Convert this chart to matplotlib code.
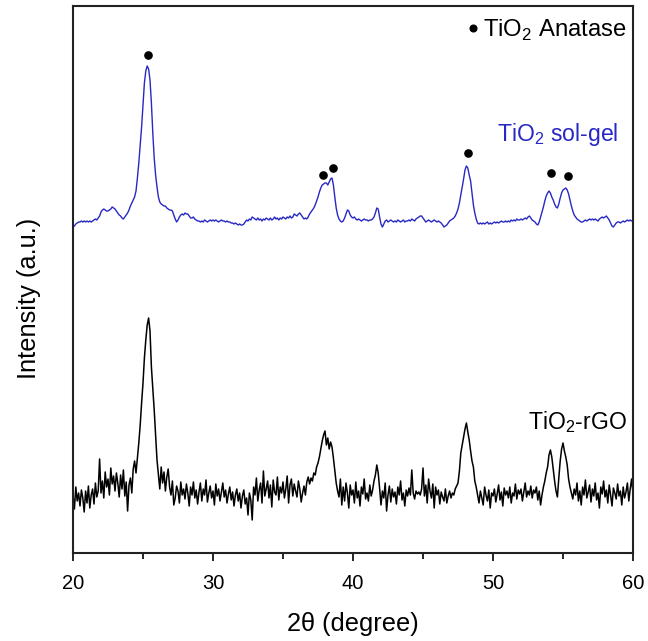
import numpy as np
import matplotlib.pyplot as plt

plt.rcParams['font.family'] = ['Liberation Sans', 'DejaVu Sans']
plt.rcParams['mathtext.fontset'] = 'custom'
plt.rcParams['mathtext.rm'] = 'Liberation Sans'

# 2theta grid, 0.1 degree step from 20 to 60
two_theta = np.round(np.arange(20.0, 60.01, 0.1), 1)

# TiO2 sol-gel (offset trace, arbitrary units)
solgel = [
    326, 327, 329, 330, 331, 331, 332, 331, 332, 331,
    332, 331, 332, 331, 332, 333, 334, 333, 335, 337,
    341, 343, 344, 343, 342, 342, 343, 344, 346, 345,
    344, 342, 340, 338, 337, 335, 334, 336, 338, 340,
    343, 347, 350, 353, 356, 362, 375, 390, 408, 426,
    448, 470, 482, 487, 484, 473, 450, 420, 395, 378,
    366, 356, 351, 349, 348, 347, 347, 345, 344, 343,
    343, 342, 338, 334, 331, 333, 336, 338, 339, 338,
    340, 339, 339, 337, 335, 335, 336, 334, 333, 332,
    332, 331, 332, 331, 333, 332, 331, 332, 333, 332,
    333, 332, 333, 332, 331, 332, 333, 332, 332, 331,
    332, 331, 331, 330, 330, 329, 330, 329, 328, 329,
    328, 328, 329, 331, 333, 332, 334, 333, 336, 335,
    334, 333, 335, 333, 334, 332, 334, 333, 335, 334,
    333, 335, 333, 334, 336, 334, 335, 333, 335, 334,
    336, 335, 334, 336, 335, 337, 335, 336, 339, 338,
    337, 339, 340, 338, 336, 334, 335, 334, 336, 339,
    341, 343, 345, 348, 352, 356, 361, 365, 368, 369,
    370, 370, 368, 371, 374, 375, 368, 356, 345, 338,
    334, 332, 331, 332, 335, 339, 343, 342, 338, 336,
    335, 336, 334, 333, 334, 333, 332, 333, 334, 333,
    333, 332, 333, 333, 334, 336, 340, 345, 344, 336,
    329, 326, 329, 332, 333, 331, 332, 333, 332, 331,
    332, 331, 333, 332, 331, 332, 333, 331, 332, 332,
    333, 332, 334, 333, 332, 334, 335, 336, 337, 337,
    335, 333, 331, 332, 333, 332, 331, 332, 333, 332,
    331, 332, 331, 330, 328, 326, 327, 328, 330, 332,
    333, 334, 335, 337, 340, 344, 350, 358, 366, 374,
    383, 387, 385, 378, 372, 360, 348, 340, 334, 330,
    329, 330, 329, 330, 329, 330, 331, 329, 330, 329,
    330, 331, 330, 331, 330, 331, 332, 331, 331, 332,
    331, 332, 331, 333, 332, 333, 332, 334, 333, 333,
    334, 333, 334, 335, 334, 336, 337, 335, 333, 332,
    331, 329, 328, 331, 336, 341, 346, 352, 357, 360,
    362, 360, 356, 353, 349, 346, 345, 349, 355, 360,
    363, 364, 365, 363, 359, 353, 347, 342, 338, 336,
    334, 333, 332, 331, 331, 332, 333, 332, 333, 334,
    333, 334, 333, 334, 333, 332, 334, 335, 336, 335,
    336, 337, 335, 333, 330, 327, 326, 328, 330, 331,
    331, 330, 331, 332, 331, 332, 333, 332, 333, 332,
    333,
]

# TiO2-rGO (lower trace, arbitrary units)
rgo = [
    58, 44, 66, 52, 60, 47, 63, 55, 41, 62,
    50, 67, 45, 58, 64, 49, 70, 56, 62, 94,
    60, 72, 55, 81, 66, 74, 58, 85, 69, 77,
    62, 80, 70, 56, 78, 64, 83, 57, 71, 42,
    68, 75, 60, 84, 92, 80, 95, 110, 128, 150,
    170, 195, 213, 228, 235, 222, 186, 165, 143, 118,
    93, 78, 64, 86, 70, 81, 62, 76, 84, 66,
    58, 72, 48, 55, 67, 62, 50, 71, 58, 64,
    54, 69, 60, 47, 66, 58, 71, 55, 63, 49,
    61, 70, 52, 64, 58, 73, 51, 60, 67, 55,
    62, 48, 69, 57, 64, 52, 61, 70, 56, 63,
    50, 59, 66, 53, 61, 47, 58, 64, 52, 60,
    45, 57, 63, 49, 55, 38, 60, 53, 33, 66,
    58, 75, 52, 63, 70, 50, 82, 57, 64, 72,
    55, 68, 46, 73, 61, 58, 76, 53, 66, 60,
    71, 55, 64, 77, 50, 68, 74, 57, 69, 62,
    56, 72, 64, 51, 60, 67, 58, 71, 76, 69,
    75, 72, 80, 78, 86, 90, 96, 104, 112, 118,
    122, 108, 115, 104, 111, 106, 95, 82, 70, 62,
    56, 74, 48, 66, 52, 70, 60, 45, 68, 58,
    63, 50, 71, 55, 62, 47, 66, 59, 74, 54,
    60, 52, 68, 57, 63, 72, 78, 88, 80, 65,
    48, 62, 55, 70, 42, 58, 67, 51, 64, 56,
    61, 49, 66, 58, 72, 53, 60, 47, 63, 57,
    65, 58, 83, 60, 54, 62, 59, 61, 58, 64,
    85, 57, 68, 50, 74, 62, 55, 69, 45, 66,
    58, 63, 49, 61, 56, 52, 64, 50, 57, 62,
    55, 60, 58, 64, 67, 70, 82, 100, 108, 116,
    124, 130, 121, 113, 102, 92, 86, 72, 66, 58,
    50, 62, 55, 48, 66, 58, 52, 63, 45, 60,
    57, 64, 51, 59, 68, 53, 61, 47, 65, 58,
    62, 55, 66, 50, 60, 57, 69, 54, 63, 59,
    64, 52, 61, 70, 56, 62, 58, 67, 55, 63,
    60, 66, 53, 62, 48, 58, 66, 72, 80, 86,
    98, 103, 96, 84, 72, 62, 56, 75, 92, 104,
    110, 102, 96, 88, 74, 66, 60, 54, 64, 58,
    70, 52, 62, 48, 66, 58, 73, 55, 61, 68,
    51, 64, 57, 70, 53, 60, 45, 66, 59, 72,
    56, 63, 50, 68, 58, 47, 65, 60, 54, 69,
    57, 62, 48, 66, 55, 61, 70, 52, 64, 74,
    60,
]

# anatase reflections marked above the sol-gel trace
anatase_pos = [25.38, 37.88, 38.55, 48.24, 54.12, 55.38]
anatase_mark = [498, 378, 385, 400, 380, 377]

blue = '#2828c4'

fig = plt.figure(figsize=(6.48, 6.41), dpi=100)
ax = fig.add_axes([73 / 648, 88 / 641, 560 / 648, 547 / 641])

ax.plot(two_theta, solgel, color=blue, lw=1.0)
ax.plot(two_theta, rgo, color='black', lw=1.1)
ax.plot(anatase_pos, anatase_mark, 'o', color='black', ms=5.2, ls='none')

# legend-like annotation
ax.plot([48.57], [525], 'o', color='black', ms=4.8)
ax.text(49.3, 523, r'TiO$_\mathrm{2}$ Anatase', fontsize=17.2, ha='left', va='center')
ax.text(50.3, 418, r'TiO$_\mathrm{2}$ sol-gel', fontsize=16.6, color=blue, ha='left', va='center')
ax.text(52.5, 131, r'TiO$_\mathrm{2}$-rGO', fontsize=16.6, ha='left', va='center')

ax.set_xlim(20, 60)
ax.set_ylim(0, 547)
ax.set_xticks([20, 30, 40, 50, 60])
ax.set_xticks([25, 35, 45, 55], minor=True)
ax.set_yticks([])
ax.tick_params(axis='x', which='major', direction='out', length=6, width=1.2,
               labelsize=14.5, pad=9)
ax.tick_params(axis='x', which='minor', direction='out', length=4, width=1.2)
for s in ax.spines.values():
    s.set_linewidth(1.5)
    s.set_color('#222222')

ax.set_xlabel('2θ (degree)', fontsize=18.3, labelpad=14)
ax.set_ylabel('Intensity (a.u.)', fontsize=18.3)
ax.yaxis.set_label_coords(-0.058, 0.466)

fig.savefig('out.png', dpi=100)
